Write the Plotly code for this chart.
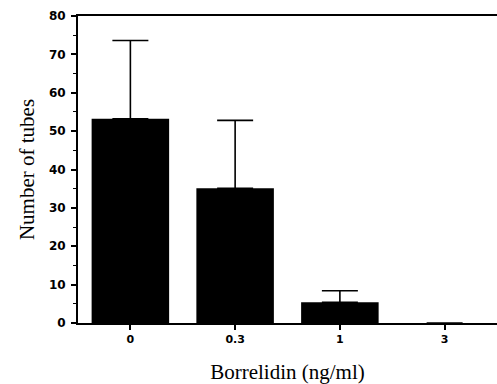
import plotly.graph_objects as go

categories = ["0", "0.3", "1", "3"]
values = [53.2, 35.1, 5.4, 0.0]
errors_up = [20.4, 17.7, 3.0, 0.0]
y_ticks = [0, 10, 20, 30, 40, 50, 60, 70, 80]

fig = go.Figure()
fig.add_trace(go.Bar(
    x=categories, y=values,
    width=0.74,
    marker=dict(color="black", line=dict(width=0)),
    error_y=dict(type="data", symmetric=False, array=errors_up,
                 arrayminus=[0] * len(values),
                 color="black", thickness=1.6, width=18),
))

tickfont = dict(family="DejaVu Sans", size=11, color="black", weight="bold")
ytickfont = dict(family="DejaVu Sans", size=12, color="black", weight="bold")
titlefont = dict(family="Liberation Serif", size=21, color="black")

fig.update_layout(
    width=497, height=384,
    margin=dict(l=78, r=0, t=16, b=61),
    paper_bgcolor="white", plot_bgcolor="white",
    showlegend=False,
    xaxis=dict(
        type="category", range=[-0.5, 3.5], automargin=False,
        showline=True, linecolor="black", linewidth=2, mirror=True,
        ticks="outside", ticklen=5, tickwidth=1.5, tickcolor="black",
        showgrid=False, zeroline=False,
        tickfont=tickfont,
        title=dict(text="Borrelidin (ng/ml)", font=titlefont, standoff=20),
    ),
    yaxis=dict(
        range=[0, 80], tickvals=y_ticks, automargin=False,
        showline=True, linecolor="black", linewidth=2,
        ticks="outside", ticklen=5, tickwidth=1.5, tickcolor="black",
        ticklabelstandoff=3,
        minor=dict(dtick=5, ticks="outside", ticklen=3, tickcolor="black", tickwidth=1),
        showgrid=False, zeroline=False,
        tickfont=ytickfont,
        title=dict(text="Number of tubes", font=titlefont, standoff=9),
    ),
)

fig.write_html("out.html",
               config={"displayModeBar": False},
               post_script="document.body.style.margin='0';document.body.style.overflow='hidden';")
